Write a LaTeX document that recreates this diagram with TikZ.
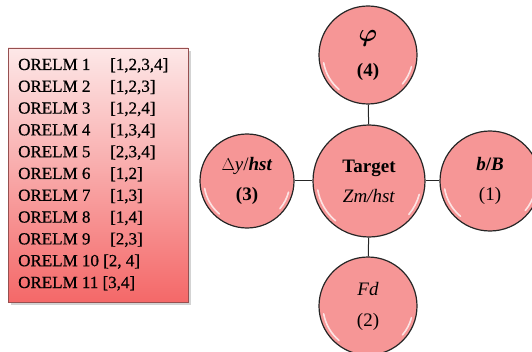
\documentclass[tikz,border=0pt]{standalone}
\usepackage{fontspec}
\usepackage{bm}
\setmainfont{Liberation Serif}
\newfontfamily\listfont[FakeBold=0.6]{Liberation Serif}
\usetikzlibrary{shadows}
\definecolor{circfill}{RGB}{246,150,150}
\definecolor{boxtop}{RGB}{253,232,232}
\definecolor{boxbot}{RGB}{244,104,104}
\definecolor{boxedge}{RGB}{150,80,80}
\tikzset{
  bubble/.style={circle, draw=black!85, line width=1.2pt, fill=circfill,
    inner sep=0pt, align=center, font=\fontsize{19}{30}\selectfont},
  hl/.style={white, opacity=.75, line width=1.6pt, line cap=round},
  listbox/.style={rectangle, draw=boxedge, line width=0.6pt, top color=boxtop,
    bottom color=boxbot, minimum width=180, minimum height=254, inner sep=0pt,
    drop shadow={shadow xshift=3pt, shadow yshift=-3pt, opacity=.35}},
  row/.style={anchor=base west, inner sep=0pt, font=\listfont\fontsize{17}{20}\selectfont},
  link/.style={draw=black!85, line width=1pt}
}
\begin{document}
\begin{tikzpicture}[x=1pt,y=1pt]
\useasboundingbox (0,0) rectangle (532,351);
% list box
\node[listbox] (list) at (98,176) {};
\foreach \i/\lab/\br in {1/1/{[1,2,3,4]},2/2/{[1,2,3]},3/3/{[1,2,4]},4/4/{[1,3,4]},5/5/{[2,3,4]},6/6/{[1,2]},7/7/{[1,3]},8/8/{[1,4]},9/9/{[2,3]}}{
  \node[row] (r\i) at (18,{281-21.8*(\i-1)}) {ORELM \lab};
  \node[row] (b\i) at (110,{281-21.8*(\i-1)}) {\br};
}
\node[row] (r10) at (18,{281-21.8*9}) {ORELM 10 [2, 4]};
\node[row] (r11) at (18,{281-21.8*10}) {ORELM 11 [3,4]};
% circles
\node[bubble, minimum size=112] (center) at (369,170) {\textbf{Target}\\\textit{Zm/hst}};
\node[bubble, minimum size=98, font=\fontsize{19}{35}\selectfont] (top) at (368,296) {\fontsize{30}{30}\selectfont$\bm{\varphi}$\\\textbf{(4)}};
\node[bubble, minimum size=94] (left) at (247,170) {$\Delta$\textit{y}/\textbf{\textit{hst}}\\\textbf{(3)}};
\node[bubble, minimum size=100] (right) at (490,170) {\textbf{\textit{b}/\textit{B}}\\(1)};
\node[bubble, minimum size=98, font=\fontsize{19}{31}\selectfont] (bottom) at (368,45) {\textit{Fd}\\(2)};
% connectors
\draw[link] (top) -- (center);
\draw[link] (bottom) -- (center);
\draw[link] (left) -- (center);
\draw[link] (right) -- (center);
% glossy highlights
\foreach \n/\r in {center/56,top/49,left/47,right/50,bottom/49}{
  \draw[hl] ([shift={(190:\r-4)}]\n.center) arc[start angle=190, end angle=230, radius=\r-4];
  \draw[hl] ([shift={(-40:\r-4)}]\n.center) arc[start angle=-40, end angle=-15, radius=\r-4];
}
\end{tikzpicture}
\end{document}
